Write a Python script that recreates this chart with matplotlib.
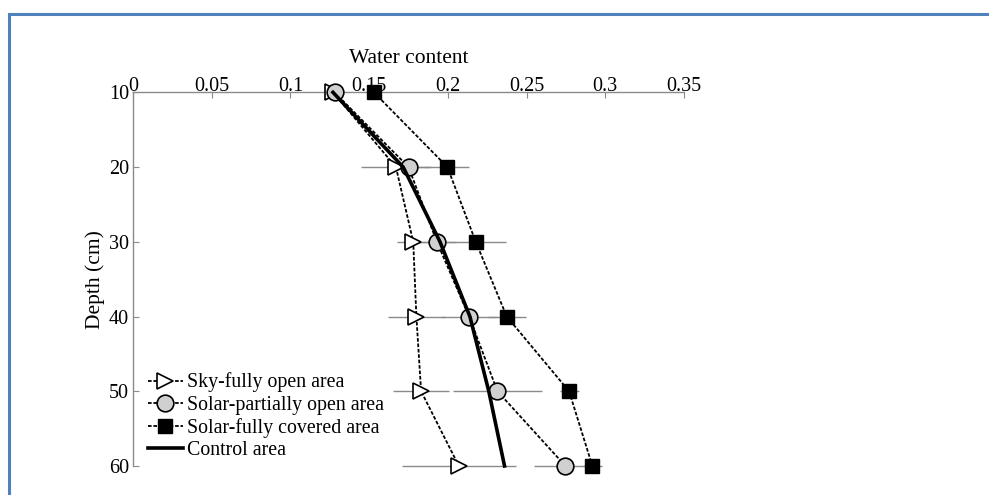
"""
Soil water content profile by depth for the three solar-panel areas and control
"""

import matplotlib

matplotlib.use("Agg")
import matplotlib.pyplot as plt
from matplotlib.lines import Line2D

plt.rcParams["font.family"] = ["Liberation Serif", "DejaVu Serif"]

# Data
depth = [10, 20, 30, 40, 50, 60]
sky_open = [0.127, 0.167, 0.178, 0.180, 0.183, 0.207]
sky_open_err = [0.0, 0.022, 0.010, 0.018, 0.018, 0.036]
solar_partial = [0.128, 0.175, 0.193, 0.2135, 0.2315, 0.2747]
solar_partial_err = [0.0, 0.012, 0.012, 0.018, 0.028, 0.020]
solar_covered = [0.153, 0.1997, 0.2177, 0.2374, 0.277, 0.2918]
solar_covered_err = [0.0, 0.014, 0.019, 0.012, 0.006, 0.006]
control = [0.127, 0.1716, 0.195, 0.214, 0.226, 0.236]

x_ticks = [0, 0.05, 0.1, 0.15, 0.2, 0.25, 0.3, 0.35]
x_ticklabels = ["0", "0.05", "0.1", "0.15", "0.2", "0.25", "0.3", "0.35"]
y_ticks = [10, 20, 30, 40, 50, 60]

fig = plt.figure(figsize=(9.89, 4.95), dpi=100)
ax = fig.add_axes([0.1345, 0.0586, 0.5571, 0.7549])

grey = "#8a8a8a"
dash = (0, (2.0, 1.0))

# horizontal error bars first so markers sit on top
for vals, errs in [
    (sky_open, sky_open_err),
    (solar_partial, solar_partial_err),
    (solar_covered, solar_covered_err),
]:
    ax.errorbar(vals, depth, xerr=errs, fmt="none", ecolor=grey,
                elinewidth=1.0, capsize=0, zorder=1, clip_on=False)

ax.plot(sky_open, depth, color="black", linestyle=dash, linewidth=1.3,
        marker=">", markersize=11, markerfacecolor="white",
        markeredgecolor="black", markeredgewidth=1.2, zorder=3, clip_on=False)
ax.plot(solar_partial, depth, color="black", linestyle=dash, linewidth=1.3,
        marker="o", markersize=12, markerfacecolor="#d0d0d0",
        markeredgecolor="black", markeredgewidth=1.2, zorder=3, clip_on=False)
ax.plot(solar_covered, depth, color="black", linestyle=dash, linewidth=1.3,
        marker="s", markersize=9.5, markerfacecolor="black",
        markeredgecolor="black", zorder=3, clip_on=False)
ax.plot(control, depth, color="black", linewidth=2.6, zorder=4, clip_on=False)

ax.set_xlim(0, 0.35)
ax.set_ylim(60, 10)
ax.xaxis.tick_top()
ax.xaxis.set_label_position("top")
ax.set_xticks(x_ticks)
ax.set_xticklabels(x_ticklabels)
ax.set_yticks(y_ticks)
ax.tick_params(axis="both", direction="in", length=4, width=0.8,
               color=grey, labelsize=14.5, pad=3)
ax.tick_params(axis="x", pad=-2.5)

for side in ["right", "bottom"]:
    ax.spines[side].set_visible(False)
for side in ["top", "left"]:
    ax.spines[side].set_color(grey)
    ax.spines[side].set_linewidth(1.0)

ax.set_xlabel("Water content", fontsize=15.5, labelpad=10)
ax.set_ylabel("Depth (cm)", fontsize=15.5, labelpad=3)

handles = [
    Line2D([], [], color="black", linestyle=dash, linewidth=1.3, marker=">",
           markersize=11, markerfacecolor="white", markeredgecolor="black",
           markeredgewidth=1.2),
    Line2D([], [], color="black", linestyle=dash, linewidth=1.3, marker="o",
           markersize=12, markerfacecolor="#d0d0d0", markeredgecolor="black",
           markeredgewidth=1.2),
    Line2D([], [], color="black", linestyle=dash, linewidth=1.3, marker="s",
           markersize=9.5, markerfacecolor="black"),
    Line2D([], [], color="black", linewidth=2.6),
]
labels = ["Sky-fully open area", "Solar-partially open area",
          "Solar-fully covered area", "Control area"]
ax.legend(handles, labels, loc="upper left", bbox_to_anchor=(0.027, 0.25),
          frameon=False, fontsize=14.3, handlelength=1.76, handletextpad=0.2,
          labelspacing=0.16, borderpad=0, borderaxespad=0)

# blue frame around the figure (top and left edges show in the reference)
fig.add_artist(Line2D([0.009, 1.0], [1 - 13.5 / 495, 1 - 13.5 / 495],
                      transform=fig.transFigure, color="#4f81bd", linewidth=2.2))
fig.add_artist(Line2D([0.009, 0.009], [0, 1 - 13.5 / 495],
                      transform=fig.transFigure, color="#4f81bd", linewidth=2.2))

fig.savefig("out.png", dpi=100)
plt.close(fig)
